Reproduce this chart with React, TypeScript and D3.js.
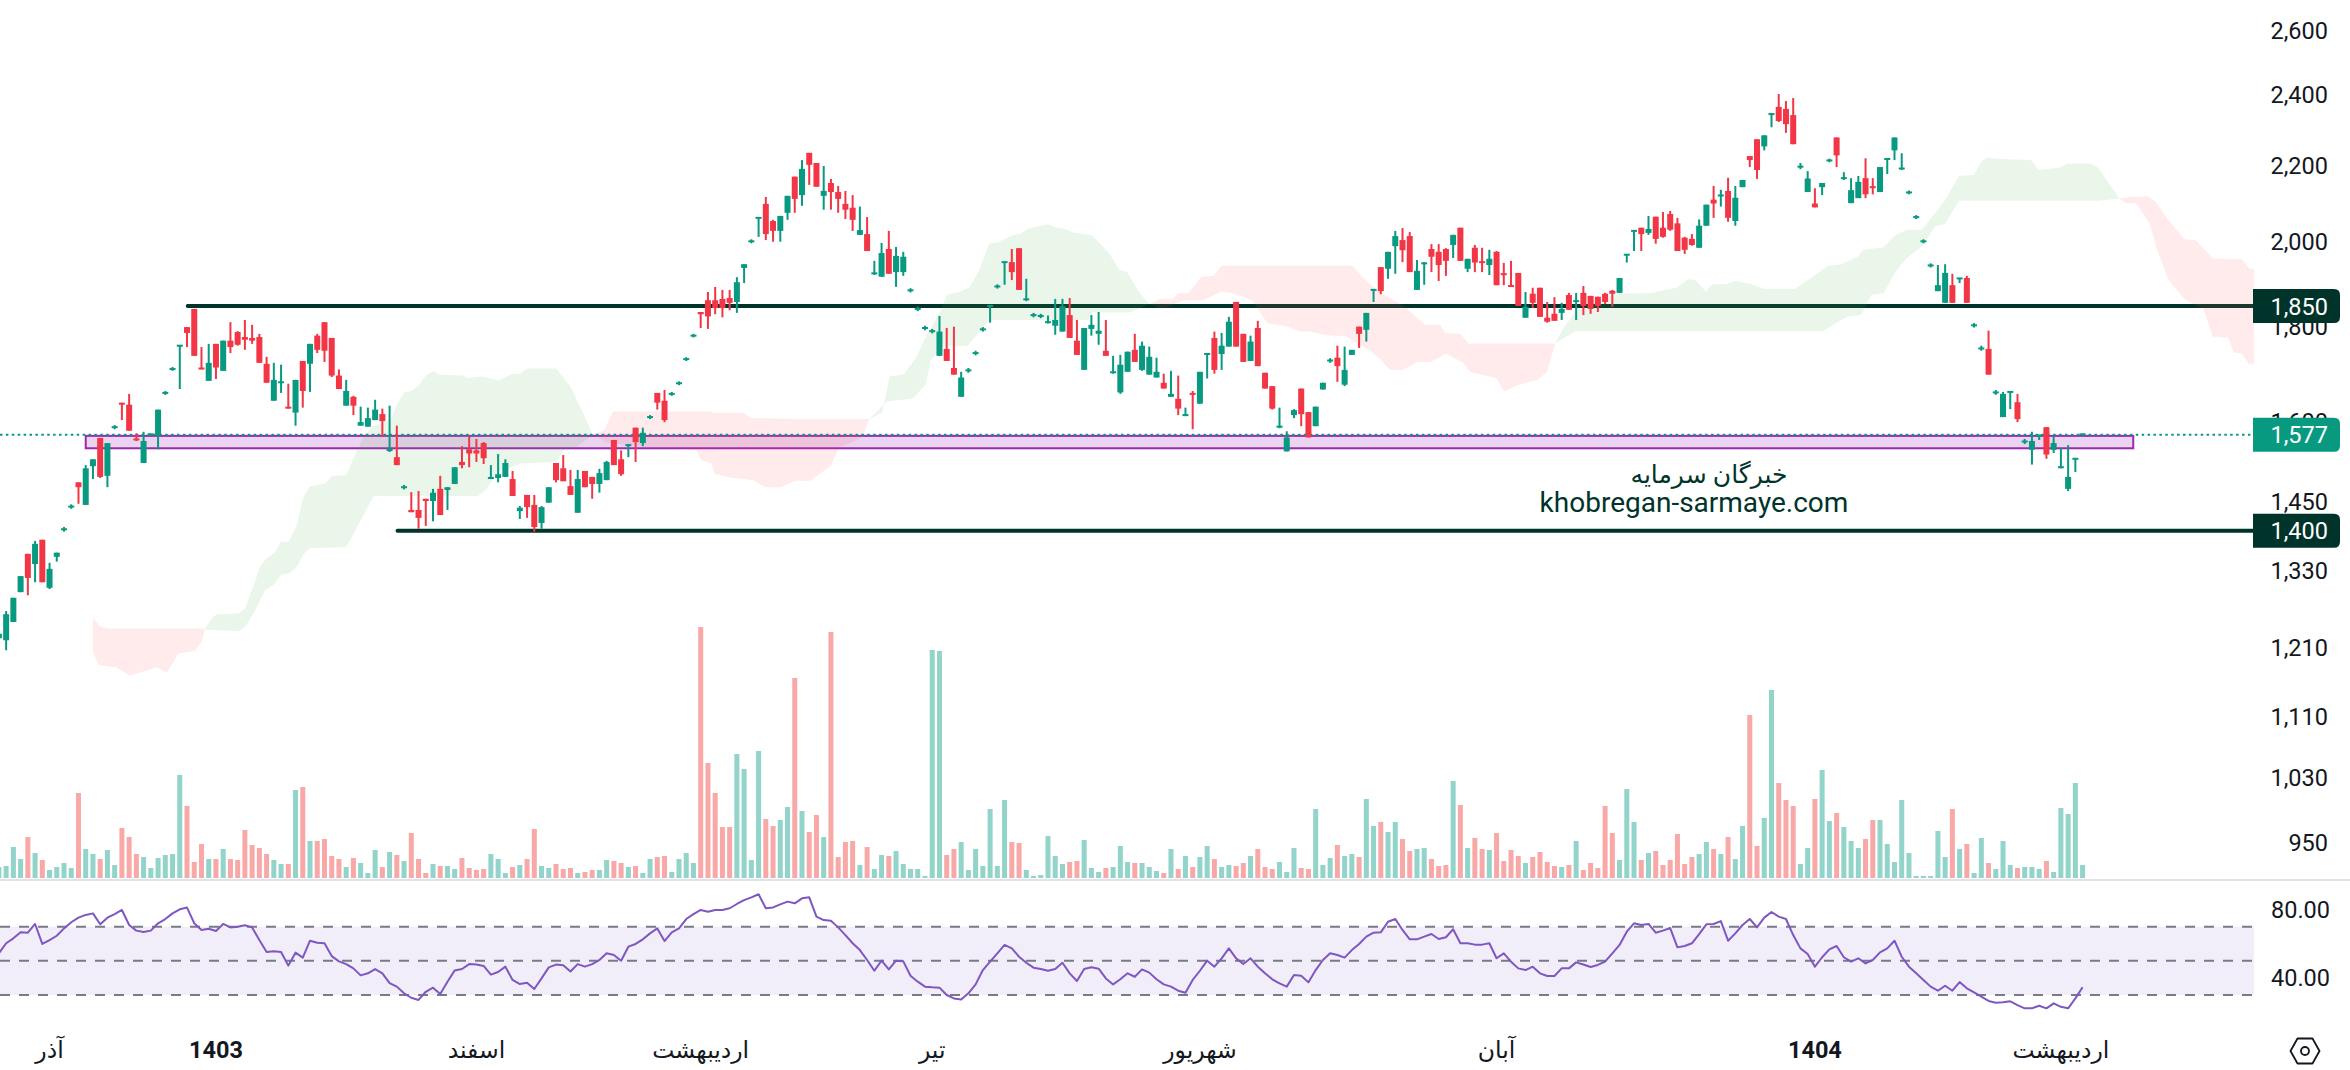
import React from "react";
import * as d3 from "d3";

const opens = [
1223,1220,1248,1295,1358,1341,1382,1302,1353,1400,
1440,1484,1443,1514,1568,1496,1589,1638,1634,1566,
1520,1574,1574,1658,1708,1758,1799,1840,1711,1683,
1762,1704,1769,1788,1777,1775,1777,1719,1642,1680,
1630,1618,1725,1719,1780,1810,1775,1694,1632,1650,
1592,1590,1603,1615,1543,1531,1475,1434,1434,1454,
1450,1472,1470,1481,1522,1546,1544,1558,1492,1492,
1494,1490,1432,1461,1443,1411,1447,1520,1510,1477,
1429,1505,1494,1481,1488,1564,1527,1554,1588,1558,
1609,1658,1642,1656,1678,1729,1780,1833,1860,1860,
1863,1865,1856,1936,2001,2060,2096,2052,2027,2073,
2168,2119,2233,2205,2117,2151,2127,2096,2086,2017,
2019,1923,1915,1982,1926,1926,1883,1840,1797,1790,
1736,1751,1710,1650,1705,1742,1794,1847,1892,1950,
1950,1984,1862,1826,1824,1810,1802,1789,1826,1769,
1706,1795,1784,1747,1701,1659,1702,1749,1706,1696,
1690,1679,1650,1646,1613,1657,1636,1740,1775,1740,
1756,1856,1784,1725,1797,1700,1672,1590,1542,1613,
1667,1619,1591,1665,1726,1732,1675,1738,1800,1793,
1884,1938,1934,1989,2004,2014,1884,1947,1982,1975,
1982,1992,2035,1934,1985,1951,1943,1975,1922,1895,
1924,1820,1875,1889,1820,1829,1831,1872,1858,1877,
1870,1868,1875,1882,1877,1968,2027,2035,2022,2063,
2035,2070,2046,2010,2007,1985,2040,2107,2118,2130,
2052,2140,2224,2271,2251,2343,2364,2358,2340,2195,
2127,2097,2140,2212,2276,2164,2098,2111,2164,2141,
2127,2216,2240,2190,2126,2062,2001,1942,1881,1854,
1895,1911,1912,1803,1752,1751,1659,1609,1660,1639,
1561,1545,1573,1589,1545,1512,1472,1528,1575];

const closes = [
1230,1260,1286,1321,1318,1375,1311,1333,1360,1400,
1440,1475,1510,1527,1494,1558,1589,1634,1582,1564,
1562,1576,1624,1658,1708,1758,1786,1736,1707,1721,
1711,1769,1755,1760,1771,1769,1721,1679,1685,1680,
1626,1685,1662,1762,1749,1747,1694,1666,1662,1632,
1599,1607,1624,1601,1546,1516,1475,1430,1420,1450,
1465,1425,1475,1512,1516,1538,1538,1529,1492,1499,
1520,1459,1438,1439,1404,1439,1475,1488,1486,1461,
1490,1475,1481,1501,1522,1516,1499,1554,1560,1578,
1609,1638,1603,1656,1678,1729,1780,1828,1823,1842,
1842,1854,1902,1945,2001,2060,2019,2027,2065,2117,
2109,2189,2200,2141,2130,2127,2109,2081,2055,2029,
1977,1923,1972,1922,1965,1963,1883,1840,1797,1790,
1789,1725,1696,1690,1705,1742,1794,1847,1892,1950,
1926,1884,1862,1826,1824,1810,1815,1846,1775,1738,
1797,1804,1791,1736,1701,1717,1745,1723,1758,1734,
1702,1667,1656,1626,1613,1655,1702,1740,1706,1758,
1811,1756,1723,1767,1714,1667,1626,1590,1569,1623,
1615,1569,1630,1679,1726,1714,1706,1749,1784,1831,
1884,1881,1975,2014,1979,1926,1929,1947,1963,1943,
1953,2017,1953,1958,1949,1949,1958,1895,1920,1891,
1847,1845,1854,1822,1811,1813,1840,1838,1858,1847,
1840,1847,1856,1875,1912,1968,2027,2019,2032,2007,
2012,2030,1977,1980,1992,2040,2094,2097,2118,2060,
2112,2159,2213,2186,2282,2343,2323,2314,2257,2195,
2163,2087,2151,2212,2226,2164,2132,2154,2121,2139,
2194,2216,2276,2190,2126,2062,2001,1942,1895,1924,
1854,1911,1854,1803,1752,1696,1659,1656,1660,1605,
1561,1562,1573,1536,1558,1512,1494,1528,1575];

const highs = [
1230,1265,1286,1321,1358,1380,1382,1343,1360,1404,
1444,1484,1516,1527,1568,1558,1593,1638,1656,1577,
1580,1576,1624,1662,1712,1758,1799,1840,1755,1762,
1762,1769,1810,1790,1815,1804,1784,1734,1721,1717,
1677,1685,1725,1762,1784,1810,1775,1707,1685,1652,
1630,1628,1644,1626,1632,1592,1479,1466,1468,1454,
1472,1496,1475,1512,1552,1571,1566,1560,1516,1537,
1527,1505,1441,1461,1461,1441,1475,1520,1535,1507,
1507,1505,1494,1509,1524,1564,1544,1556,1588,1588,
1613,1658,1664,1660,1682,1733,1784,1833,1879,1891,
1884,1884,1914,1945,2006,2060,2114,2055,2065,2117,
2168,2213,2233,2205,2197,2162,2143,2130,2119,2089,
2062,1953,1997,2027,1987,1975,1888,1845,1802,1795,
1824,1797,1800,1702,1710,1747,1799,1847,1897,1950,
1982,1984,1910,1831,1829,1825,1863,1863,1865,1815,
1797,1826,1833,1815,1736,1738,1745,1784,1767,1756,
1732,1698,1704,1694,1628,1662,1702,1740,1789,1786,
1822,1856,1784,1780,1813,1700,1672,1628,1581,1625,
1667,1619,1630,1679,1731,1758,1756,1749,1800,1831,
1884,1938,1975,2027,2034,2024,1955,1950,1994,1994,
1984,2017,2035,1958,1992,1985,1980,1977,1948,1953,
1924,1879,1889,1889,1856,1867,1854,1877,1877,1893,
1870,1868,1877,1884,1912,1968,2027,2035,2065,2063,
2075,2078,2060,2012,2019,2056,2094,2143,2133,2165,
2143,2159,2224,2271,2282,2343,2402,2381,2390,2205,
2183,2137,2151,2217,2276,2180,2164,2170,2218,2164,
2194,2216,2276,2232,2131,2067,2006,1947,1943,1945,
1922,1911,1917,1808,1758,1791,1664,1660,1660,1656,
1566,1580,1573,1589,1571,1548,1554,1528,1576];

const lows = [
1223,1205,1248,1295,1290,1311,1311,1300,1345,1396,
1436,1445,1443,1490,1492,1475,1585,1603,1582,1562,
1520,1574,1546,1654,1704,1666,1755,1736,1707,1683,
1687,1704,1742,1758,1749,1762,1721,1679,1642,1658,
1626,1592,1628,1660,1742,1723,1691,1666,1632,1613,
1592,1590,1603,1571,1541,1516,1471,1430,1401,1406,
1414,1425,1434,1481,1510,1512,1522,1518,1490,1484,
1494,1459,1418,1420,1396,1401,1447,1484,1486,1461,
1429,1475,1454,1465,1488,1516,1496,1531,1522,1552,
1605,1624,1599,1652,1674,1725,1776,1797,1795,1828,
1821,1837,1831,1900,1996,2012,2004,2000,2000,2055,
2073,2091,2146,2141,2081,2081,2073,2057,2027,2017,
1977,1919,1915,1922,1891,1917,1878,1835,1792,1785,
1736,1725,1696,1650,1700,1737,1789,1809,1887,1896,
1907,1884,1858,1821,1819,1807,1782,1789,1775,1738,
1706,1780,1760,1736,1698,1656,1702,1723,1704,1696,
1690,1667,1650,1613,1611,1585,1636,1688,1698,1706,
1756,1756,1723,1725,1714,1667,1624,1587,1542,1607,
1591,1569,1591,1665,1721,1681,1672,1738,1753,1767,
1856,1874,1910,1922,1950,1926,1884,1896,1926,1905,
1917,1960,1953,1926,1926,1926,1919,1895,1895,1891,
1847,1820,1842,1822,1809,1813,1815,1838,1815,1826,
1829,1833,1851,1845,1877,1949,1977,1977,2017,1995,
2010,2027,1977,1970,1990,1985,2040,2060,2089,2050,
2040,2140,2194,2162,2240,2305,2320,2289,2257,2188,
2127,2087,2119,2207,2194,2159,2098,2111,2111,2121,
2127,2175,2213,2186,2121,2057,1996,1937,1881,1854,
1854,1900,1854,1798,1747,1696,1654,1609,1625,1599,
1556,1517,1564,1528,1539,1510,1468,1503,1574];

const volumes = [
33,36,93,57,123,75,54,24,33,45,
30,255,87,72,57,84,39,150,123,72,
63,30,60,69,72,309,216,48,102,57,
57,87,57,54,144,99,90,72,54,42,
42,264,273,111,111,117,66,57,33,60,
45,15,84,33,78,69,51,135,57,15,
42,36,36,27,60,30,24,27,72,57,
15,33,39,57,147,36,30,42,27,30,
15,18,24,24,54,51,45,33,36,15,
57,63,66,18,57,75,45,753,345,255,
153,153,372,327,54,381,177,156,174,213,
600,201,138,189,123,738,63,108,111,39,
93,27,69,66,81,42,27,27,6,684,
681,69,87,108,24,87,36,207,36,234,
108,105,24,6,9,126,66,42,48,51,
114,30,18,30,33,96,48,45,45,33,
21,15,87,27,66,33,63,96,57,33,
39,36,45,66,87,33,27,48,18,90,
30,27,207,39,60,99,66,72,63,237,
156,168,138,168,117,81,87,90,57,36,
39,291,219,90,120,87,84,135,51,84,
66,45,63,78,48,36,33,39,111,24,
45,30,216,135,54,267,168,54,75,81,
39,54,132,42,63,72,108,87,72,123,
57,156,489,96,180,564,285,234,216,42,
90,237,324,171,195,153,111,90,117,174,
174,102,48,234,75,6,6,6,141,63,
207,87,102,15,120,45,27,111,39,30,
33,33,27,51,18,210,192,285,39];

const rsi = [
54.4,60.3,63.2,66.7,66.5,71.6,59.9,62.2,64.7,69,
72.6,75.3,76.9,77.8,71.4,75.3,77.4,79.8,71,67.7,
66.9,67.7,72,74.5,77.8,80.2,81.2,72,68.1,68.8,
67.5,71.6,69.6,70,70.8,69.6,62.2,55.2,55.6,55.2,
47.2,54.8,51.9,61.8,60.6,60.3,52.8,49.7,48.1,45.6,
41.5,42.7,45.2,42.7,37,34.9,31,28.4,27.1,31.9,
34.3,30.6,37.8,44.4,45.2,48.1,47.9,47,41.9,43.5,
46.6,38.8,36.4,37.2,33.5,39.7,46.2,47.8,47.4,43.8,
48.1,46.6,48.1,50.5,54.4,53.4,50.1,58.3,59.9,62.6,
66.1,69,61.6,66.7,69,74.5,77.4,79.8,78.8,79.8,
79.8,80.8,83.3,85.6,87.2,89,80.8,81.3,83.1,84.7,
83.7,86.6,87.2,75.9,73.9,73.5,69.6,65.1,60.3,56.3,
50.5,44.2,50.1,45,50.1,49.7,41.3,37.8,34.9,34.5,
34.3,30,28,27.4,31,36.2,44.6,49.5,54.4,59.3,
57.3,52.4,48.9,46,45.2,44.2,45.2,48.9,42.7,38.2,
45.2,46.2,45.4,39.7,36.2,39.2,42.7,40.7,45,43.1,
39.2,36.2,34.9,32.5,31.3,38.8,44.2,50.1,46.6,51.5,
57.3,51.5,48.1,51.5,46.6,42.7,39.2,36.8,34.9,41.7,
41.3,37.4,44.6,50.5,54.4,53.4,51.9,56.3,59.9,64.2,
66.5,66.7,72.9,74.5,68.1,62.6,62.6,64.2,65.7,62.8,
63.8,68.5,60.3,60.3,59.5,59.5,60.3,51.5,54.4,49.5,
45.6,44.6,46.6,42.7,41.1,41.1,45.6,45.6,49.1,47.9,
46.4,47.6,49.5,54.4,59.3,67.1,72,71,71.6,66.5,
67.7,69.2,57.9,58.7,60.3,65.7,71.4,71.6,73.3,61.8,
66.1,71,74.5,69.6,75.3,78.6,75.9,74.5,65.1,57.3,
54,46.6,52.1,56.7,58.7,52.1,49.5,51.5,48.5,50.5,
55,57.3,61.8,52.4,46.6,42.7,38.8,34.9,32.5,35.4,
32.5,37.6,33.9,31.5,29,26.5,25.5,25.7,26.3,24.1,
22.2,22.2,23.7,22.2,25.1,23.1,22.2,28,34.5];

type Pt = [number, number];
const red1Top: Pt[] = [[13,1254],[14,1241],[15,1238],[28.5,1238]];
const red1Bottom: Pt[] = [[13,1202],[13.8,1183],[16.2,1180],[18.1,1168],[21.9,1180],[23.2,1172],[24.8,1200],[27.1,1204],[28.1,1220],[28.5,1238]];
const green1Top: Pt[] = [[28.5,1238],[29.4,1253],[30.1,1260],[33.1,1261],[34,1269],[35.3,1309],[36.1,1337],[37,1351],[38.1,1360],[39,1379],[40.1,1379],[41.2,1408],[42,1455],[43,1477],[45.1,1482],[46.1,1496],[48,1497],[49.2,1535],[50.4,1570],[51.6,1590],[54.1,1603],[55,1634],[56,1659],[57,1662],[58.1,1675],[59,1694],[60.1,1703],[60.9,1696],[64.2,1694],[64.7,1689],[66.8,1692],[69,1684],[71,1698],[72.1,1698],[72.9,1709],[77,1709],[79,1671],[80.5,1624],[82.1,1574]];
const green1Bottom: Pt[] = [[28.5,1236],[33.1,1234],[34,1240],[35.3,1264],[36.8,1298],[37.9,1306],[39,1323],[40.2,1326],[41.2,1337],[42.1,1357],[43,1368],[48,1369],[49.2,1397],[50.4,1425],[51.8,1459],[66.2,1459],[67.3,1470],[69,1503],[70.7,1512],[72.1,1519],[77,1522],[78,1544],[79.8,1550],[82.1,1574]];
const red2Top: Pt[] = [[82.1,1574],[83.7,1584],[84.9,1620],[98.2,1620],[98.9,1617],[103,1617],[103.9,1607],[111.2,1605],[120.3,1605]];
const red2Bottom: Pt[] = [[82.1,1574],[84,1559],[89,1551],[94.6,1547],[96.4,1544],[97.1,1525],[98.5,1519],[98.9,1500],[101,1493],[102.4,1491],[104.2,1488],[105.9,1475],[108,1475],[110.1,1487],[112.1,1487],[115,1515],[116.1,1549],[119.3,1569],[120.3,1605]];
const green2Top: Pt[] = [[120.3,1605],[122.1,1618],[123.1,1692],[125.1,1697],[126.7,1731],[128.4,1786],[130,1830],[131,1872],[133,1881],[134.2,1891],[135.5,1931],[136.9,1996],[138,1998],[140.2,2017],[141.1,2019],[142.3,2033],[145,2044],[146.1,2036],[147.1,2033],[148.5,2023],[151,2017],[152.4,1992],[153.5,1970],[154.9,1931],[155.9,1927],[157.7,1876],[159,1851]];
const green2Bottom: Pt[] = [[120.3,1605],[122.8,1641],[126.3,1646],[128.1,1675],[128.8,1727],[130.5,1756],[133.9,1758],[136.9,1815],[150.6,1815],[151,1832],[156.3,1832],[159,1851]];
const red3Top: Pt[] = [[159,1851],[160.5,1863],[162.3,1864],[163,1876],[164.4,1876],[166.2,1915],[167.9,1917],[169,1941],[187,1941],[188.7,1911],[190.4,1884],[194.3,1845],[197.1,1804],[199.2,1804],[199.9,1786],[202,1784],[203.1,1763],[215.1,1763]];
const red3Bottom: Pt[] = [[159,1851],[160.9,1839],[163.7,1860],[166.5,1860],[169,1880],[170.4,1877],[173.2,1860],[175.3,1808],[178.2,1800],[179.9,1789],[181.3,1789],[183.1,1782],[186.3,1778],[187.7,1763],[189.4,1749],[190.8,1731],[192.3,1706],[194,1706],[196.1,1723],[197.9,1723],[200,1741],[202.4,1721],[203.4,1701],[207,1689],[208,1661],[210.1,1675],[212.6,1685],[214,1702],[215.1,1763]];
const green3Top: Pt[] = [[215.1,1763],[216.1,1793],[217.9,1834],[223.5,1875],[228.5,1877],[232,1890],[233.4,1909],[234.5,1907],[235.9,1880],[236.9,1897],[238.7,1898],[240.1,1905],[242.2,1898],[244,1886],[248.2,1886],[250.7,1915],[252.8,1941],[254.6,1944],[257,1964],[257.7,1980],[260.5,1986],[262,2015],[263.7,2030],[265.8,2030],[269,2106],[270.9,2170],[273,2173],[274,2209],[274.9,2221],[275.9,2217],[280.9,2213],[281.9,2186],[284.9,2193],[285.9,2204],[289.1,2204],[290.1,2193],[293.1,2110]];
const green3Bottom: Pt[] = [[215.1,1763],[217.9,1790],[252.1,1790],[253.8,1807],[255.6,1823],[257.4,1827],[258.8,1872],[260.5,1876],[262,1923],[263.7,1960],[265.8,1988],[267.6,2038],[269,2045],[270.9,2104],[290.1,2104],[293.1,2110]];
const red4Top: Pt[] = [[293.1,2110],[294.9,2114],[297,2116],[298.1,2101],[299.9,2053],[302.1,2006],[303.6,2004],[306,1959],[310,1957],[311,1935],[311.7,1934]];
const red4Bottom: Pt[] = [[293.1,2110],[293.9,2099],[295.4,2097],[297.3,2045],[298.3,1979],[299.9,1907],[302.1,1862],[304.7,1840],[306,1778],[308.1,1775],[308.9,1743],[310,1741],[311,1718],[311.7,1718]];

const priceTicks = [2600, 2400, 2200, 2000, 1800, 1600, 1450, 1330, 1210, 1110, 1030, 950];
const rsiTicks = [80, 40];
const rsiLevels = [70, 50, 30];
const monthIndex = [7, 30, 66, 97, 129, 166, 207, 251, 285];
const monthLabels = ["آذر", "1403", "اسفند", "اردیبهشت", "تیر", "شهریور", "آبان", "1404", "اردیبهشت"];
const monthBold = [false, true, false, false, false, false, false, true, false];
const levelValues = [1850, 1400];
const levelStart = [26.1, 55.1];
const zoneBounds = [1572, 1548];
const zoneRange = [12, 295];
const lastPrice = 1577;

const UP = "#089981", DOWN = "#f23645", DARK = "#00332a", TXT = "#131722";
const FONT = "Roboto, 'Noto Sans', 'DejaVu Sans', sans-serif";

const x = d3.scaleLinear().domain([0, 288]).range([-1.1, 2082.6]);
const y = d3.scaleLog().domain([1400, 2000]).range([529.3, 241.7]);
const yVol = d3.scaleLinear().domain([0, 753]).range([878, 627]);
const yRsi = d3.scaleLinear().domain([30, 70]).range([995, 926.7]);
const RIGHT = 2254;
const OVERLAY_DY = 1.5;

const numFmt = d3.format(",");
const rsiLine = d3.line<number>().x((_, i) => x(i)).y((d) => yRsi(d));

function cloudPath(top: Pt[], bottom: Pt[]) {
  const pts = [...top, ...[...bottom].reverse()];
  return d3.line<Pt>().x((d) => x(d[0])).y((d) => y(d[1]))(pts) + "Z";
}
const greenClouds = [cloudPath(green1Top, green1Bottom), cloudPath(green2Top, green2Bottom), cloudPath(green3Top, green3Bottom)];
const redClouds = [cloudPath(red1Top, red1Bottom), cloudPath(red2Top, red2Bottom), cloudPath(red3Top, red3Bottom), cloudPath(red4Top, red4Bottom)];

function Tag({ yc, fill, text }: { yc: number; fill: string; text: string }) {
  const h = 34, w = 87, r = 6, l = RIGHT - 1;
  const t = yc - h / 2;
  return (
    <g>
      <path d={`M${l},${t}H${l + w - r}Q${l + w},${t} ${l + w},${t + r}V${t + h - r}Q${l + w},${t + h} ${l + w - r},${t + h}H${l}Z`} fill={fill} />
      <text x={2328} y={yc} dy="0.36em" textAnchor="end" fontSize={23.5} fill="#fff" fontFamily={FONT}>{text}</text>
    </g>
  );
}

export default function App() {
  return (
    <svg width={2350} height={1070} style={{ position: "fixed", left: 0, top: 0, background: "#fff" }}>
      <defs>
        <clipPath id="pane"><rect x={0} y={0} width={RIGHT} height={1070} /></clipPath>
      </defs>

      {priceTicks.map((p) => (
        <text key={p} x={2328} y={y(p) + 0.3} dy="0.36em" textAnchor="end" fontSize={23.5} fill={TXT} fontFamily={FONT}>{numFmt(p)}</text>
      ))}
      {rsiTicks.map((r) => (
        <text key={r} x={2330} y={yRsi(r)} dy="0.36em" textAnchor="end" fontSize={23.5} fill={TXT} fontFamily={FONT}>{r.toFixed(2)}</text>
      ))}

      <g clipPath="url(#pane)">
        {levelValues.map((v, i) => (
          <line key={v} x1={x(levelStart[i])} x2={RIGHT} y1={y(v) + OVERLAY_DY} y2={y(v) + OVERLAY_DY} stroke={DARK} strokeWidth={4} strokeLinecap="round" />
        ))}
        <rect x={x(zoneRange[0])} width={x(zoneRange[1]) - x(zoneRange[0])} y={y(zoneBounds[0])} height={y(zoneBounds[1]) - y(zoneBounds[0])} fill="#9c27b0" fillOpacity={0.2} stroke="#9c27b0" strokeWidth={2} />
        {greenClouds.map((d, i) => <path key={i} d={d} fill="#4caf50" fillOpacity={0.115} />)}
        {redClouds.map((d, i) => <path key={i} d={d} fill="#ff5252" fillOpacity={0.115} />)}
        <line x1={0} x2={RIGHT} y1={y(lastPrice) + OVERLAY_DY} y2={y(lastPrice) + OVERLAY_DY} stroke={UP} strokeWidth={2} strokeDasharray="2.5 3.4" />

        {volumes.map((v, i) => (
          <rect key={i} x={x(i) - 2.5} width={5} y={yVol(v)} height={yVol(0) - yVol(v)} fill={closes[i] >= opens[i] ? "#92d3ca" : "#f9a8a8"} />
        ))}

        {opens.map((o, i) => {
          const c = closes[i];
          const col = c >= o ? UP : DOWN;
          const top = y(Math.max(o, c));
          const bot = y(Math.min(o, c));
          const h = Math.max(2, bot - top);
          return (
            <g key={i} fill={col}>
              <rect x={x(i) - 1} width={2} y={y(highs[i])} height={y(lows[i]) - y(highs[i])} />
              <rect x={x(i) - 3} width={6} y={bot - top < 2 ? (top + bot) / 2 - 1 : top} height={h} />
            </g>
          );
        })}
      </g>

      <text x={1709} y={474} dy="0.36em" textAnchor="middle" fontSize={25} fill={DARK} fontFamily={FONT}>خبرگان سرمایه</text>
      <text x={1694} y={502} dy="0.36em" textAnchor="middle" fontSize={28} fill={DARK} fontFamily={FONT}>khobregan-sarmaye.com</text>

      <Tag yc={y(levelValues[0]) + OVERLAY_DY} fill={DARK} text={numFmt(levelValues[0])} />
      <Tag yc={y(lastPrice) + OVERLAY_DY} fill={UP} text={numFmt(lastPrice)} />
      <Tag yc={y(levelValues[1]) + OVERLAY_DY} fill={DARK} text={numFmt(levelValues[1])} />

      <rect x={0} y={879} width={2350} height={2} fill="#e0e3eb" />

      <rect x={0} width={RIGHT} y={yRsi(70)} height={yRsi(30) - yRsi(70)} fill="#7e57c2" fillOpacity={0.1} />
      {rsiLevels.map((l) => (
        <line key={l} x1={0} x2={RIGHT} y1={yRsi(l)} y2={yRsi(l)} stroke="#787b86" strokeWidth={2} strokeDasharray="10 9" />
      ))}
      <path d={rsiLine(rsi) ?? ""} fill="none" stroke="#7e57c2" strokeWidth={2} strokeLinejoin="round" />

      {monthLabels.map((m, i) => (
        <text key={i} x={x(monthIndex[i])} y={1050} dy="0.36em" textAnchor="middle" fontSize={23.5} fontWeight={monthBold[i] ? 700 : 400} fill={TXT} fontFamily={FONT}>{m}</text>
      ))}

      <g transform="translate(2305,1051)" fill="none" stroke={TXT} strokeWidth={1.8}>
        <path d="M-14.5,0L-7.5,-12.5H7.5L14.5,0L7.5,12.5H-7.5Z" strokeLinejoin="round" />
        <circle r={4} />
      </g>
    </svg>
  );
}
